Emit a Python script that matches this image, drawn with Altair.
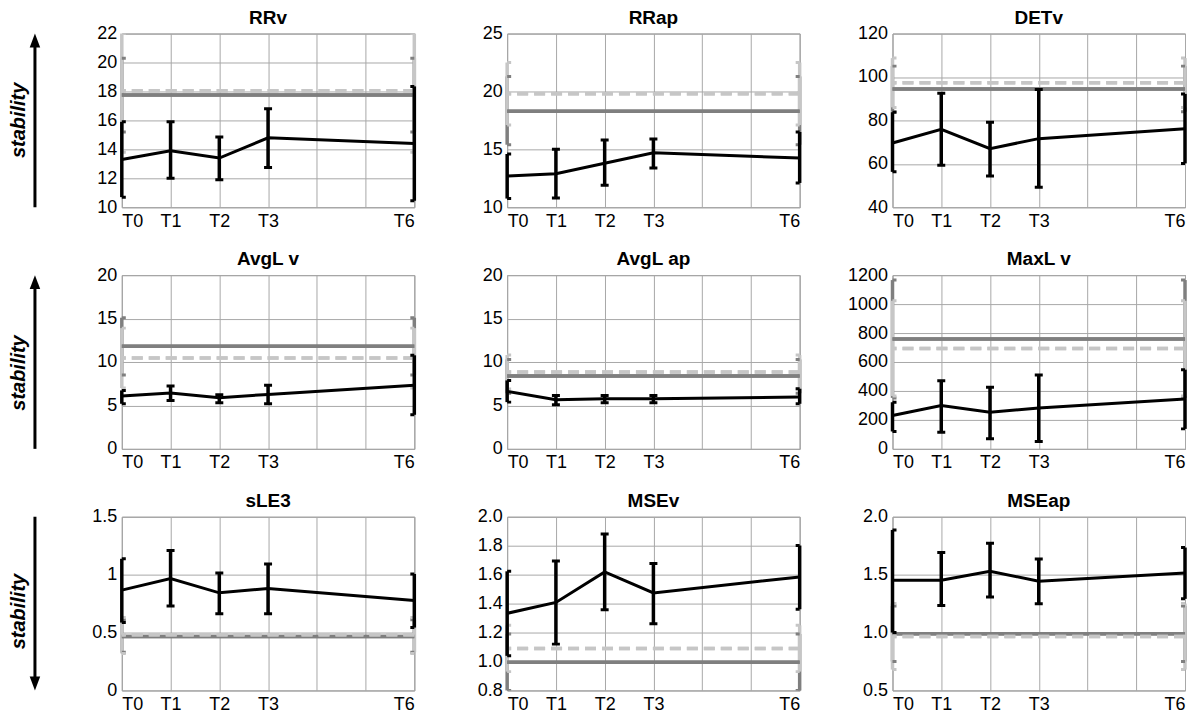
import altair as alt
import pandas as pd

FONT = "Liberation Sans"

times = ["T0", "T1", "T2", "T3", "T6"]
xpos = [0, 1, 2, 3, 6]
grid_x = [0, 1, 2, 3, 4, 5, 6]

names = ["RRv", "RRap", "DETv", "AvgL v", "AvgL ap", "MaxL v", "sLE3", "MSEv", "MSEap"]

# mean and error-bar limits of the measured series (black)
RRv_mean = [13.3, 13.9, 13.4, 14.8, 14.4]
RRv_lo = [10.7, 12.0, 11.9, 12.75, 10.45]
RRv_hi = [15.9, 15.9, 14.85, 16.8, 18.35]

RRap_mean = [12.7, 12.9, 13.8, 14.7, 14.25]
RRap_lo = [10.75, 10.8, 11.9, 13.4, 12.1]
RRap_hi = [14.6, 15.0, 15.8, 15.9, 16.5]

DETv_mean = [69.6, 75.9, 67.0, 71.6, 76.2]
DETv_lo = [56.3, 59.4, 54.4, 49.2, 60.2]
DETv_hi = [83.8, 92.5, 79.2, 94.2, 92.2]

AvgLv_mean = [6.08, 6.42, 5.88, 6.27, 7.31]
AvgLv_lo = [5.19, 5.58, 5.31, 5.19, 3.92]
AvgLv_hi = [6.73, 7.23, 6.23, 7.31, 10.77]

AvgLap_mean = [6.62, 5.65, 5.77, 5.77, 5.96]
AvgLap_lo = [5.38, 5.08, 5.31, 5.31, 5.19]
AvgLap_hi = [7.88, 6.15, 6.15, 6.15, 6.92]

MaxLv_mean = [230, 299, 253, 283, 345]
MaxLv_lo = [120, 115, 69, 51, 138]
MaxLv_hi = [322, 471, 425, 510, 547]

sLE3_mean = [0.866, 0.966, 0.843, 0.88, 0.777]
sLE3_lo = [0.586, 0.729, 0.663, 0.663, 0.543]
sLE3_hi = [1.137, 1.209, 1.014, 1.091, 1.006]

MSEv_mean = [1.333, 1.408, 1.619, 1.474, 1.584]
MSEv_lo = [1.039, 1.12, 1.357, 1.261, 1.361]
MSEv_hi = [1.623, 1.694, 1.881, 1.677, 1.801]

MSEap_mean = [1.451, 1.451, 1.529, 1.443, 1.514]
MSEap_lo = [1.0, 1.234, 1.306, 1.249, 1.291]
MSEap_hi = [1.886, 1.691, 1.771, 1.634, 1.734]

means = [RRv_mean, RRap_mean, DETv_mean, AvgLv_mean, AvgLap_mean, MaxLv_mean, sLE3_mean, MSEv_mean, MSEap_mean]
lows = [RRv_lo, RRap_lo, DETv_lo, AvgLv_lo, AvgLap_lo, MaxLv_lo, sLE3_lo, MSEv_lo, MSEap_lo]
highs = [RRv_hi, RRap_hi, DETv_hi, AvgLv_hi, AvgLap_hi, MaxLv_hi, sLE3_hi, MSEv_hi, MSEap_hi]

# reference bands: solid dark grey and dashed light grey (mean, low, high)
solid_mean = [17.75, 18.3, 94.5, 11.8, 8.4, 759, 0.466, 0.995, 0.99]
solid_lo = [15.2, 15.4, 84, 8.5, 6.4, 352, 0.33, 0.8, 0.75]
solid_hi = [20.3, 21.3, 105, 15.1, 10.3, 1166, 0.61, 1.19, 1.23]
dashed_mean = [18.05, 19.8, 97.3, 10.45, 8.85, 694, 0.48, 1.09, 0.965]
dashed_lo = [13.8, 17.1, 86, 7.0, 6.9, 365, 0.32, 0.93, 0.68]
dashed_hi = [22.0, 22.5, 108.7, 13.9, 10.8, 1023, 0.63, 1.25, 1.25]

y_domains = [[10, 22], [10, 25], [40, 120], [0, 20], [0, 20], [0, 1200], [0, 1.5], [0.8, 2.0], [0.5, 2.0]]
y_ticks = [
    [10, 12, 14, 16, 18, 20, 22],
    [10, 15, 20, 25],
    [40, 60, 80, 100, 120],
    [0, 5, 10, 15, 20],
    [0, 5, 10, 15, 20],
    [0, 200, 400, 600, 800, 1000, 1200],
    [0, 0.5, 1.0, 1.5],
    [0.8, 1.0, 1.2, 1.4, 1.6, 1.8, 2.0],
    [0.5, 1.0, 1.5, 2.0],
]
y_formats = ["d", "d", "d", "d", "d", "d", "~g", ".1f", ".1f"]

arrow_dirs = ["up", "up", "down"]
stab_text_y = [87, 98, 95]

DARK = "#7f7f7f"
LIGHT = "#c6c6c6"
W, H = 293, 174

label_expr = "".join(
    f"datum.value == {p} ? '{t}' : " for p, t in zip(xpos, times)
) + "''"


def make_panel(i, row, col):
    df = pd.DataFrame({"x": xpos, "m": means[i], "lo": lows[i], "hi": highs[i]})
    ref = pd.DataFrame({
        "x": [0, 6, 0, 6],
        "kind": ["solid", "solid", "dashed", "dashed"],
        "v": [solid_mean[i]] * 2 + [dashed_mean[i]] * 2,
        "lo": [solid_lo[i]] * 2 + [dashed_lo[i]] * 2,
        "hi": [solid_hi[i]] * 2 + [dashed_hi[i]] * 2,
    })
    xs = alt.Scale(domain=[0, 6], nice=False, zero=False)
    ys = alt.Scale(domain=y_domains[i], nice=False, zero=False)
    xa = alt.Axis(values=grid_x, labelExpr=label_expr, title=None, labelFlush=True,
                  labelOverlap=False, grid=True)
    ya = alt.Axis(values=y_ticks[i], format=y_formats[i], title=None, labelOverlap=False, grid=True)
    X = alt.X("x:Q", scale=xs, axis=xa)

    def Y(f):
        return alt.Y(f"{f}:Q", scale=ys, axis=ya)

    colr = alt.Color("kind:N", scale=alt.Scale(domain=["solid", "dashed"], range=[DARK, LIGHT]), legend=None)

    layers = [
        alt.Chart(ref).mark_rule(strokeWidth=3.5).encode(x=X, y=Y("lo"), y2="hi", color=colr),
        alt.Chart(ref).mark_tick(orient="horizontal", size=8, thickness=3, opacity=1, clip=True)
        .encode(x=X, y=Y("lo"), color=colr),
        alt.Chart(ref).mark_tick(orient="horizontal", size=8, thickness=3, opacity=1, clip=True)
        .encode(x=X, y=Y("hi"), color=colr),
        alt.Chart(ref).transform_filter("datum.kind == 'solid'")
        .mark_rule(strokeWidth=3.5, color=DARK).encode(y=Y("v")),
        alt.Chart(ref).transform_filter("datum.kind == 'dashed'")
        .mark_rule(strokeWidth=3.5, color=LIGHT, strokeDash=[11, 6]).encode(y=Y("v")),
        alt.Chart(df).mark_rule(strokeWidth=3.5, color="black").encode(x=X, y=Y("lo"), y2="hi"),
        alt.Chart(df).mark_tick(orient="horizontal", size=8, thickness=3, opacity=1, color="black", clip=True)
        .encode(x=X, y=Y("lo")),
        alt.Chart(df).mark_tick(orient="horizontal", size=8, thickness=3, opacity=1, color="black", clip=True)
        .encode(x=X, y=Y("hi")),
        alt.Chart(df).mark_line(strokeWidth=3, color="black").encode(x=X, y=Y("m")),
    ]

    if col == 0:
        one = pd.DataFrame({"a": [0]})
        ax = -87
        if arrow_dirs[row] == "up":
            shaft = alt.Chart(one).mark_rule(strokeWidth=3, color="black").encode(
                x=alt.value(ax), y=alt.value(10), y2=alt.value(H))
            head = alt.Chart(one).mark_point(shape="M0,-1L0.75,1L-0.75,1Z", filled=True, opacity=1,
                                             color="black", size=196, strokeWidth=0).encode(
                x=alt.value(ax), y=alt.value(7))
        else:
            shaft = alt.Chart(one).mark_rule(strokeWidth=3, color="black").encode(
                x=alt.value(ax), y=alt.value(0), y2=alt.value(H - 10))
            head = alt.Chart(one).mark_point(shape="M0,1L0.75,-1L-0.75,-1Z", filled=True, opacity=1,
                                             color="black", size=196, strokeWidth=0).encode(
                x=alt.value(ax), y=alt.value(H - 7))
        txt = alt.Chart(one).mark_text(text="stability", angle=270, fontSize=20, fontWeight="bold",
                                       fontStyle="italic", font=FONT, align="center", baseline="middle",
                                       color="black").encode(x=alt.value(-103), y=alt.value(stab_text_y[row]))
        layers += [shaft, head, txt]

    title = alt.TitleParams(names[i], frame="group", offset=-3)
    return alt.layer(*layers).properties(width=W, height=H, title=title)


panels = [make_panel(r * 3 + c, r, c) for r in range(3) for c in range(3)]

chart = (
    alt.concat(*panels, columns=3, spacing=alt.RowColnumber(row=68, column=93), bounds="flush")
    .properties(padding={"left": 0, "top": -1, "right": 0, "bottom": 0}, background="white")
    .configure_view(stroke="#8c8c8c", strokeWidth=1)
    .configure_axis(labelFont=FONT, labelFontSize=18, labelColor="black", ticks=False, domain=False,
                    gridColor="#a8a8a8", gridWidth=1, gridOpacity=1, labelPadding=5)
    .configure_title(font=FONT, fontSize=19, fontWeight="bold", color="black", anchor="middle")
)

chart.save("out.html", embed_options={"renderer": "svg", "actions": False})
